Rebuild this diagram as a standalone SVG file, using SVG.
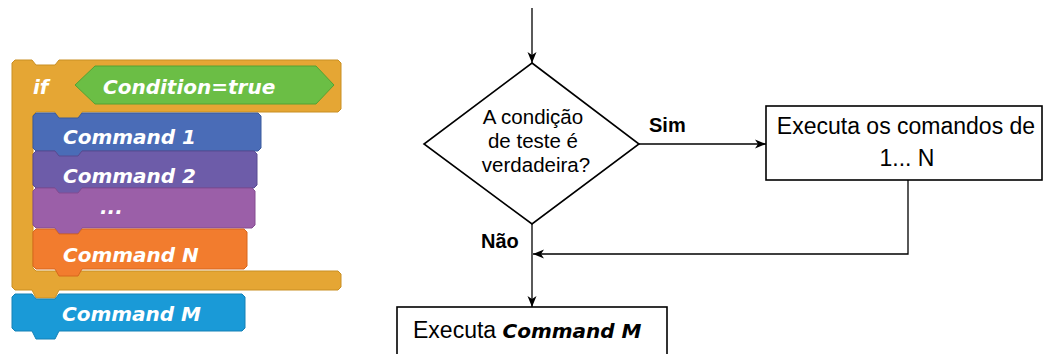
<svg xmlns="http://www.w3.org/2000/svg" width="1044" height="354" viewBox="0 0 1044 354">
<style>
.blk{stroke-width:1}
.st{font-family:"DejaVu Sans",Verdana,sans-serif;font-weight:bold;font-style:italic;font-size:20px;fill:#ffffff}
.fc{font-family:"Liberation Sans",Arial,sans-serif;fill:#000000}
.lbl{font-family:"Liberation Sans",Arial,sans-serif;font-weight:bold;font-size:20px;fill:#000000}
.shape{fill:#ffffff;stroke:#000000;stroke-width:1.6}
.edge{fill:none;stroke:#000000;stroke-width:1.3}
</style>
<defs>
<marker id="arr" markerUnits="userSpaceOnUse" markerWidth="12" markerHeight="10" refX="11" refY="5" orient="auto">
<path d="M0,0.5 L11,5 L0,9.5 L3,5 Z" fill="#000000"/>
</marker>
</defs>

<!-- Scratch blocks -->
<g id="scratch-if">
<path class="blk" fill="#E5A634" stroke="#C98F22" d="M12,63 l3,-3 H32 l4,5 H55 l4,-5 H338 l3,3 V109 l-3,3 H82 l-4,7 H59 l-4,-7 H36 l-3,3 V268 l3,3 H338 l3,3 V287 l-3,3 H59 l-4,8 H36 l-4,-8 H15 l-3,-3 Z"/>
<path fill="#6BBE45" stroke="#55A233" stroke-width="1" d="M75,85 L95,66 H316 L334,85 L316,104 H95 Z"/>
<text class="st" x="33" y="94">if</text>
<text class="st" x="103" y="94">Condition=true</text>
</g>
<g id="scratch-cmd1">
<path class="blk" fill="#4A6CB7" stroke="#3B5A9C" d="M33,116 l3,-3 H55 l4,5 H78 l4,-5 H258 l3,3 V148 l-3,3 H82 l-4,6 H59 l-4,-6 H36 l-3,-3 Z"/>
<text class="st" x="63" y="144">Command 1</text>
</g>
<g id="scratch-cmd2">
<path class="blk" fill="#6D5CA9" stroke="#594A91" d="M33,154 l3,-3 H55 l4,5 H78 l4,-5 H254 l3,3 V185 l-3,3 H82 l-4,6 H59 l-4,-6 H36 l-3,-3 Z"/>
<text class="st" x="63" y="183">Command 2</text>
</g>
<g id="scratch-dots">
<path class="blk" fill="#9B5FA8" stroke="#844C91" d="M33,191 l3,-3 H55 l4,5 H78 l4,-5 H252 l3,3 V225 l-3,3 H82 l-4,6 H59 l-4,-6 H36 l-3,-3 Z"/>
<text class="st" x="100" y="214">...</text>
</g>
<g id="scratch-cmdN">
<path class="blk" fill="#F27C2E" stroke="#D8661D" d="M33,232 l3,-3 H55 l4,5 H78 l4,-5 H244 l3,3 V266 l-3,3 H82 l-4,7 H59 l-4,-7 H36 l-3,-3 Z"/>
<text class="st" x="63" y="262">Command N</text>
</g>
<g id="scratch-cmdM">
<path class="blk" fill="#1A9AD7" stroke="#1481B6" d="M12,297 l3,-3 H32 l4,5 H55 l4,-5 H242 l3,3 V328 l-3,3 H59 l-4,8 H36 l-4,-8 H15 l-3,-3 Z"/>
<text class="st" x="62" y="321">Command M</text>
</g>

<!-- Flowchart -->
<g id="connectors">
<path class="edge" d="M532,8 V63" marker-end="url(#arr)"/>
<path class="edge" d="M639,144 H766" marker-end="url(#arr)"/>
<path class="edge" d="M908,180 V254 H533" marker-end="url(#arr)"/>
<path class="edge" d="M532,224 V307" marker-end="url(#arr)"/>
<text class="lbl" x="649" y="132">Sim</text>
<text class="lbl" x="481" y="248">Não</text>
</g>
<g id="decision">
<path class="shape" d="M532,63 L639,144 L532,224 L424,144 Z"/>
<text class="fc" font-size="20.5" text-anchor="middle" x="533" y="124">A condição</text>
<text class="fc" font-size="20.5" text-anchor="middle" x="533" y="148">de teste é</text>
<text class="fc" font-size="20.5" text-anchor="middle" x="536" y="172">verdadeira?</text>
</g>
<g id="exec-1-N">
<rect class="shape" x="766" y="106" width="276" height="74"/>
<text class="fc" font-size="23" text-anchor="middle" x="906" y="134">Executa os comandos de</text>
<text class="fc" font-size="23" text-anchor="middle" x="907" y="166">1... N</text>
</g>
<g id="exec-M">
<rect class="shape" x="397" y="307" width="270" height="60"/>
<text class="fc" font-size="23" x="413" y="338">Executa <tspan font-family="DejaVu Sans, Verdana, sans-serif" font-weight="bold" font-style="italic" font-size="20">Command M</tspan></text>
</g>
</svg>
